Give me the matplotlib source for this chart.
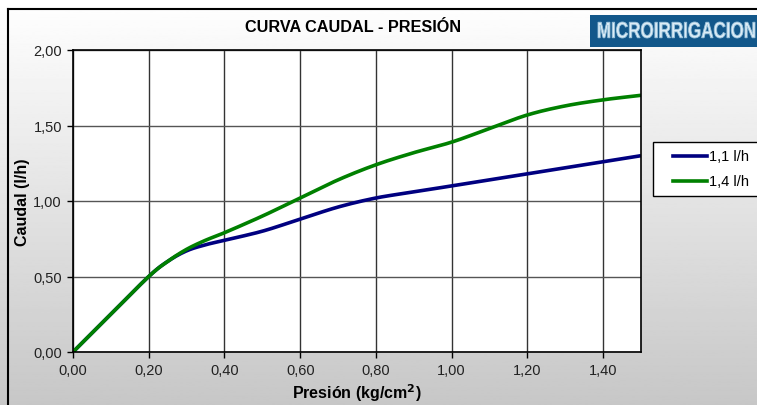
import matplotlib
matplotlib.use("Agg")
import matplotlib.pyplot as plt
import numpy as np
from matplotlib.patches import Rectangle, PathPatch
from matplotlib.lines import Line2D
from matplotlib.textpath import TextPath
from matplotlib.font_manager import FontProperties
from matplotlib.transforms import Affine2D

plt.rcParams["font.family"] = ["Liberation Sans", "DejaVu Sans"]

# values
presion = [0.0, 0.1, 0.2, 0.25, 0.3, 0.35, 0.4, 0.5, 0.6, 0.7, 0.8,
           0.9, 1.0, 1.1, 1.2, 1.3, 1.4, 1.5]
caudal_11 = [0.0, 0.25, 0.5, 0.6, 0.67, 0.71, 0.74, 0.80, 0.88, 0.96, 1.02,
             1.06, 1.10, 1.14, 1.18, 1.22, 1.26, 1.30]
caudal_14 = [0.0, 0.25, 0.5, 0.6, 0.68, 0.74, 0.79, 0.90, 1.02, 1.14, 1.24,
             1.32, 1.39, 1.48, 1.57, 1.63, 1.67, 1.70]
series_labels = ["1,1 l/h", "1,4 l/h"]
series_colors = ["#000080", "#008000"]
x_ticks = [0.0, 0.2, 0.4, 0.6, 0.8, 1.0, 1.2, 1.4]
y_ticks = [0.0, 0.5, 1.0, 1.5, 2.0]

W, H = 757, 406


def smooth(x, y, n=20):
    """Catmull-Rom style smoothing, like Excel's smoothed lines."""
    x = np.asarray(x, float)
    y = np.asarray(y, float)
    px = np.concatenate([[2 * x[0] - x[1]], x, [2 * x[-1] - x[-2]]])
    py = np.concatenate([[2 * y[0] - y[1]], y, [2 * y[-1] - y[-2]]])
    xs, ys = [], []
    t = np.linspace(0, 1, n, endpoint=False)
    for i in range(1, len(px) - 2):
        for p, out in ((px, xs), (py, ys)):
            p0, p1, p2, p3 = p[i - 1], p[i], p[i + 1], p[i + 2]
            out.extend(0.5 * ((2 * p1) + (-p0 + p2) * t
                              + (2 * p0 - 5 * p1 + 4 * p2 - p3) * t ** 2
                              + (-p0 + 3 * p1 - 3 * p2 + p3) * t ** 3))
    xs.append(x[-1])
    ys.append(y[-1])
    return np.array(xs), np.array(ys)


def fx(px):
    return px / W


def fy(py):
    return 1 - py / H


fig = plt.figure(figsize=(W / 100, H / 100), dpi=100)

# gradient background
bg = fig.add_axes([0, 0, 1, 1], zorder=-10)
grad = np.linspace(1.0, 0.78, 256).reshape(-1, 1)
bg.imshow(grad, aspect="auto", cmap="gray", vmin=0, vmax=1,
          extent=[0, 1, 0, 1])
bg.axis("off")

# outer chart frame (left and top edges visible)
fig.add_artist(Line2D([fx(8), fx(8)], [0, fy(10)],
                      transform=fig.transFigure, color="black", lw=1.5))
fig.add_artist(Line2D([fx(8), 1], [fy(10), fy(10)],
                      transform=fig.transFigure, color="black", lw=1.5))

ax = fig.add_axes([fx(73), fy(353), (641 - 73) / W, (353 - 51) / H])
ax.set_facecolor("white")

for yv, color in zip((caudal_11, caudal_14), series_colors):
    sx, sy = smooth(presion, yv)
    ax.plot(sx, sy, color=color, lw=2.6, solid_capstyle="butt")

ax.set_xlim(0, 1.5)
ax.set_ylim(0, 2.0)
ax.set_xticks(x_ticks)
ax.set_yticks(y_ticks)
ax.set_xticklabels([f"{v:.2f}".replace(".", ",") for v in x_ticks])
ax.set_yticklabels([f"{v:.2f}".replace(".", ",") for v in y_ticks])
ax.tick_params(direction="out", length=4, width=1, labelsize=10.5,
               labelcolor="#222222", pad=4)
ax.xaxis.grid(True, color="#333333", lw=1)
ax.yaxis.grid(True, color="#555555", lw=1)
ax.set_axisbelow(True)
for spine in ax.spines.values():
    spine.set_color("black")
    spine.set_linewidth(1.2)

ax.set_xlabel("Presión (kg/cm$^\\mathbf{2}$)", fontsize=11.5,
              fontweight="bold", labelpad=3)
ax.set_ylabel("Caudal (l/h)", fontsize=11.5, fontweight="bold", labelpad=2)

fig.text(fx(353), fy(27), "CURVA CAUDAL - PRESIÓN", ha="center",
         va="center", fontsize=11.7, fontweight="bold")

# legend box, drawn by hand to sit like the original
fig.add_artist(Rectangle((fx(653), fy(197)), (W + 5 - 653) / W, 54 / H,
                         transform=fig.transFigure, facecolor="white",
                         edgecolor="black", lw=1))
for i, (label, color) in enumerate(zip(series_labels, series_colors)):
    yy = fy(157 + 25 * i)
    fig.add_artist(Line2D([fx(673), fx(707)], [yy, yy],
                          transform=fig.transFigure, color=color, lw=2.6))
    fig.text(fx(709), yy, label, ha="left", va="center", fontsize=10.5)

# MICROIRRIGACION logo
fig.add_artist(Rectangle((fx(590), fy(48)), 167 / W, 32 / H,
                         transform=fig.transFigure, facecolor="#12578a",
                         edgecolor="none"))
tp = TextPath((0, 0), "MICROIRRIGACION", size=1,
              prop=FontProperties(family="Liberation Sans", weight="bold"))
bb = tp.get_extents()
tr = (Affine2D().translate(-bb.x0, -bb.y0)
      .scale(157 / bb.width, 16 / bb.height)
      .translate(598, H - 39)
      .scale(1 / W, 1 / H)) + fig.transFigure
fig.add_artist(PathPatch(tp, transform=tr, facecolor="#dcecf6",
                         edgecolor="#9cc4dc", lw=0.6))

fig.savefig("out.png", dpi=100)
